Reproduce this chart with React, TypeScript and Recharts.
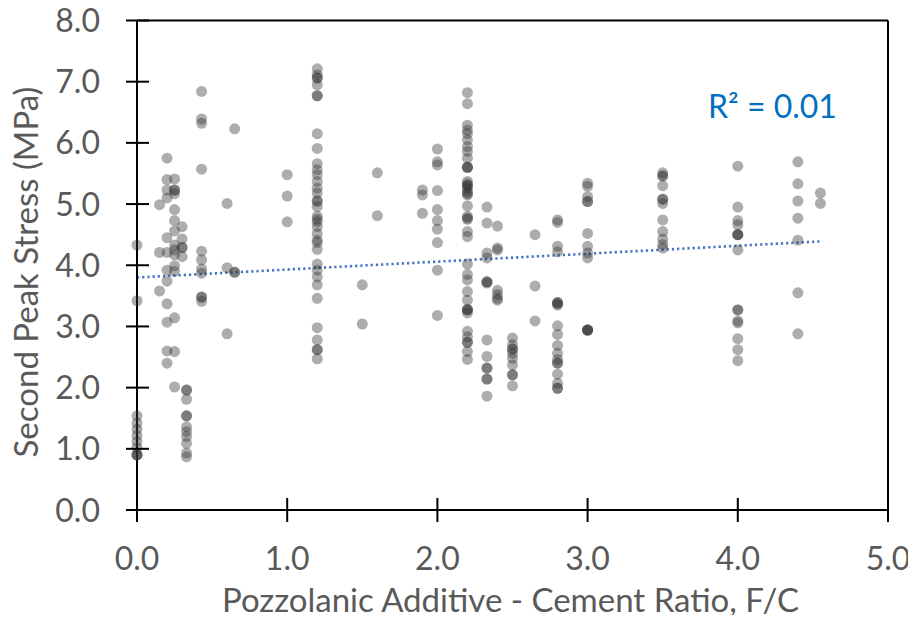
import React from 'react';
import { ScatterChart, Scatter, XAxis, YAxis, ReferenceLine, Customized } from 'recharts';

// pozzolanic additive / cement ratio groups and the second peak stress (MPa) read at each
const stressAt000 = [4.33, 3.42, 1.54, 1.42, 1.32, 1.22, 1.12, 1.02, 0.9, 0.9, 0.9];
const stressAt015 = [4.99, 4.21, 3.58];
const stressAt020 = [5.75, 5.4, 5.23, 5.1, 4.45, 4.21, 3.92, 3.74, 3.37, 3.07, 2.6, 2.4];
const stressAt025 = [5.41, 5.23, 5.23, 5.17, 4.91, 4.73, 4.56, 4.33, 4.25, 4.17, 3.99, 3.9, 3.14, 2.59, 2.01];
const stressAt030 = [4.63, 4.43, 4.29, 4.29, 4.14];
const stressAt033 = [1.96, 1.96, 1.81, 1.54, 1.54, 1.36, 1.28, 1.2, 1.09, 0.93, 0.87];
const stressAt043 = [6.84, 6.39, 6.32, 5.57, 4.23, 4.09, 3.94, 3.87, 3.48, 3.48, 3.41];
const stressAt060 = [5.01, 3.96, 2.88];
const stressAt065 = [6.23, 3.89, 3.88];
const stressAt100 = [5.48, 5.13, 4.71];
const stressAt120 = [
	7.21, 7.11, 7.06, 7.06, 6.95, 6.77, 6.77, 6.15, 5.91, 5.66, 5.56, 5.48, 5.37, 5.26, 5.18, 5.06, 5.04,
	4.96, 4.8, 4.75, 4.71, 4.63, 4.52, 4.41, 4.37, 4.26, 4.02, 3.92, 3.81, 3.68, 3.46, 2.98, 2.78, 2.62,
	2.62, 2.47,
];
const stressAt150 = [3.68, 3.04];
const stressAt160 = [5.51, 4.81];
const stressAt190 = [5.23, 5.15, 4.85];
const stressAt200 = [5.9, 5.69, 5.64, 5.22, 4.91, 4.73, 4.59, 4.37, 3.92, 3.18];
const stressAt220 = [
	6.82, 6.64, 6.29, 6.21, 6.15, 6.05, 5.94, 5.86, 5.75, 5.6, 5.6, 5.6, 5.37, 5.33, 5.3, 5.3, 5.25, 5.2,
	5.17, 5.15, 4.97, 4.8, 4.77, 4.75, 4.55, 4.47, 4.02, 3.85, 3.76, 3.57, 3.43, 3.28, 3.27, 3.27, 3.22,
	2.92, 2.83, 2.74, 2.74, 2.59, 2.46,
];
const stressAt233 = [4.95, 4.69, 4.2, 4.12, 3.73, 3.73, 3.71, 2.78, 2.51, 2.32, 2.32, 2.14, 2.14, 1.86];
const stressAt240 = [4.64, 4.28, 4.25, 3.59, 3.52, 3.46, 3.43];
const stressAt250 = [2.81, 2.7, 2.63, 2.63, 2.56, 2.48, 2.37, 2.21, 2.21, 2.03];
const stressAt265 = [4.5, 3.66, 3.09];
const stressAt280 = [
	4.74, 4.7, 4.31, 4.22, 3.39, 3.39, 3.37, 3.35, 3.01, 2.87, 2.69, 2.56, 2.46, 2.4, 2.4, 2.22, 2.07, 1.99,
	1.99,
];
const stressAt300 = [5.34, 5.29, 5.12, 5.04, 5.04, 4.52, 4.31, 4.2, 4.12, 2.94, 2.94, 2.94, 2.94];
const stressAt350 = [5.51, 5.46, 5.46, 5.3, 5.08, 5.08, 5.01, 4.74, 4.55, 4.43, 4.34, 4.28];
const stressAt400 = [5.62, 4.95, 4.73, 4.66, 4.5, 4.5, 4.5, 4.25, 3.27, 3.27, 3.09, 3.06, 2.8, 2.62, 2.44];
const stressAt440 = [5.69, 5.33, 5.05, 4.77, 4.41, 3.55, 2.88];
const stressAt455 = [5.18, 5.01];

const ratioGroups: [number, number[]][] = [
	[0, stressAt000],
	[0.15, stressAt015],
	[0.2, stressAt020],
	[0.25, stressAt025],
	[0.3, stressAt030],
	[0.33, stressAt033],
	[0.43, stressAt043],
	[0.6, stressAt060],
	[0.65, stressAt065],
	[1.0, stressAt100],
	[1.2, stressAt120],
	[1.5, stressAt150],
	[1.6, stressAt160],
	[1.9, stressAt190],
	[2.0, stressAt200],
	[2.2, stressAt220],
	[2.33, stressAt233],
	[2.4, stressAt240],
	[2.5, stressAt250],
	[2.65, stressAt265],
	[2.8, stressAt280],
	[3.0, stressAt300],
	[3.5, stressAt350],
	[4.0, stressAt400],
	[4.4, stressAt440],
	[4.55, stressAt455],
];

// linear trend line ends
const trendX = [0, 4.55];
const trendY = [3.8, 4.39];

const xTicks = [0, 1, 2, 3, 4, 5];
const yTicks = [0, 1, 2, 3, 4, 5, 6, 7, 8];

const points = ratioGroups.flatMap(([x, ys]) => ys.map((y) => ({ x, y })));

// chart sits at the page origin (body margin cancelled)
const W = 916;
const H = 623;
const LEFT = 137;
const TOP = 20.5;
const RIGHT = 888;
const BOTTOM = 510;
const FONT = 'Lato, "Open Sans", sans-serif';
const GREY = '#595959';

const XTick = (props: any) => {
	const { x, payload } = props;
	return (
		<g>
			<line x1={x} x2={x} y1={BOTTOM - 12} y2={BOTTOM + 12} stroke='#000' strokeWidth={2} />
			<text x={x} y={BOTTOM + 60} textAnchor='middle' fill={GREY} fontSize={32} fontFamily={FONT}>
				{payload.value.toFixed(1)}
			</text>
		</g>
	);
};

const YTick = (props: any) => {
	const { y, payload } = props;
	return (
		<g>
			<line x1={LEFT - 11} x2={LEFT + 12} y1={y} y2={y} stroke='#000' strokeWidth={2} />
			<text x={LEFT - 37} y={y} dy='0.36em' textAnchor='end' fill={GREY} fontSize={32} fontFamily={FONT}>
				{payload.value.toFixed(1)}
			</text>
		</g>
	);
};

const Dot = (props: any) => <circle cx={props.cx} cy={props.cy} r={5.5} fill='#333' fillOpacity={0.4} />;

const Texts = () => (
	<g fontFamily={FONT}>
		<text x={(LEFT + RIGHT) / 2 - 2} y={612} textAnchor='middle' fill={GREY} fontSize={33}>
			Pozzolanic Additive - Cement Ratio, F/C
		</text>
		<text
			x={38}
			y={272}
			transform='rotate(-90 38 272)'
			textAnchor='middle'
			fill={GREY}
			fontSize={33}
		>
			Second Peak Stress (MPa)
		</text>
		<text x={708} y={118} fill='#0070C0' fontSize={32}>
			R² = 0.01
		</text>
	</g>
);

export default function App() {
	return (
		<div style={{ width: W, height: H, margin: -8 }}>
			<style>{'svg.recharts-surface { overflow: visible; }'}</style>
			<ScatterChart width={W} height={H} margin={{ top: TOP, right: W - RIGHT, bottom: 0, left: 0 }}>
				<XAxis
					type='number'
					dataKey='x'
					domain={[0, 5]}
					ticks={xTicks}
					interval={0}
					height={H - BOTTOM}
					axisLine={{ stroke: '#000', strokeWidth: 2 }}
					tickLine={false}
					tick={<XTick />}
				/>
				<YAxis
					type='number'
					dataKey='y'
					domain={[0, 8]}
					ticks={yTicks}
					interval={0}
					width={LEFT}
					axisLine={{ stroke: '#000', strokeWidth: 2 }}
					tickLine={false}
					tick={<YTick />}
				/>
				<ReferenceLine y={8} stroke='#000' strokeWidth={2} />
				<ReferenceLine x={5} stroke='#000' strokeWidth={2} />
				<Scatter data={points} shape={Dot} isAnimationActive={false} />
				<ReferenceLine
					segment={[
						{ x: trendX[0], y: trendY[0] },
						{ x: trendX[1], y: trendY[1] },
					]}
					stroke='#4472C4'
					strokeWidth={2.6}
					strokeDasharray='2.2 3'
				/>
				<Customized component={Texts} />
			</ScatterChart>
		</div>
	);
}
